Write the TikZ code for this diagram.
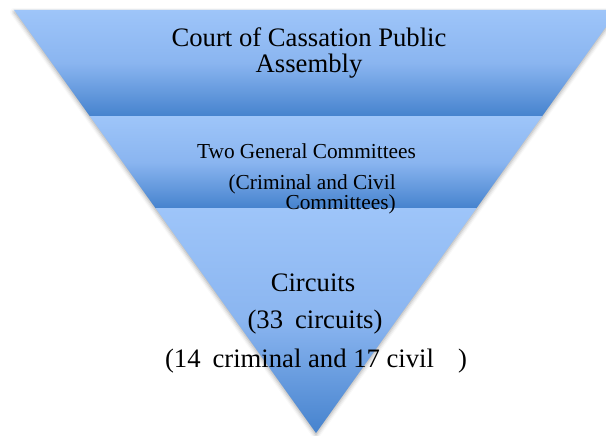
\documentclass[tikz,border=0pt]{standalone}
\usepackage{fontspec}
\setmainfont{Liberation Serif}
\usetikzlibrary{shadows.blur}

\definecolor{bandtop}{RGB}{158,197,249}
\definecolor{bandmid}{RGB}{138,181,240}
\definecolor{bandbot}{RGB}{70,131,206}

\tikzset{
  band/.style={top color=bandtop, bottom color=bandbot, middle color=bandmid},
  bigtext/.style={font=\fontsize{20}{19.5}\selectfont, align=center, inner sep=0pt},
  smalltext/.style={font=\fontsize{16}{15}\selectfont, inner sep=0pt},
}

\begin{document}
\begin{tikzpicture}[x=0.75pt,y=-0.75pt]
\useasboundingbox (0,0) rectangle (606,435);
\clip (0,0) rectangle (606,435);

% Shadow of the whole pyramid
\path[blur shadow={shadow xshift=0pt, shadow yshift=-1.5pt, shadow blur radius=3pt, shadow opacity=35}]
  (14,10) -- (618,10) -- (316,433) -- cycle;

% Bands
\shade[band] (14,10) -- (618,10) -- (542.3,116) -- (89.7,116) -- cycle;
\shade[band] (89.7,116) -- (542.3,116) -- (476.6,208) -- (155.4,208) -- cycle;
\shade[band] (155.4,208) -- (476.6,208) -- (316,433) -- cycle;

% Labels
\node[bigtext] (assembly) at (309,53) {Court of Cassation Public\\Assembly};
\node[smalltext] (general) at (306.5,151) {Two General Committees};
\node[smalltext, align=right, anchor=east] (committees) at (396,194) {(Criminal and Civil\\Committees)};
\node[bigtext] (circuits) at (313,283) {Circuits};
\node[bigtext] (count) at (315,322) {(33\hspace{0.2em} circuits)};
\node[bigtext] (split) at (316,361) {(14\hspace{0.2em} criminal and 17 civil\hspace{0.9em})};
\end{tikzpicture}
\end{document}
